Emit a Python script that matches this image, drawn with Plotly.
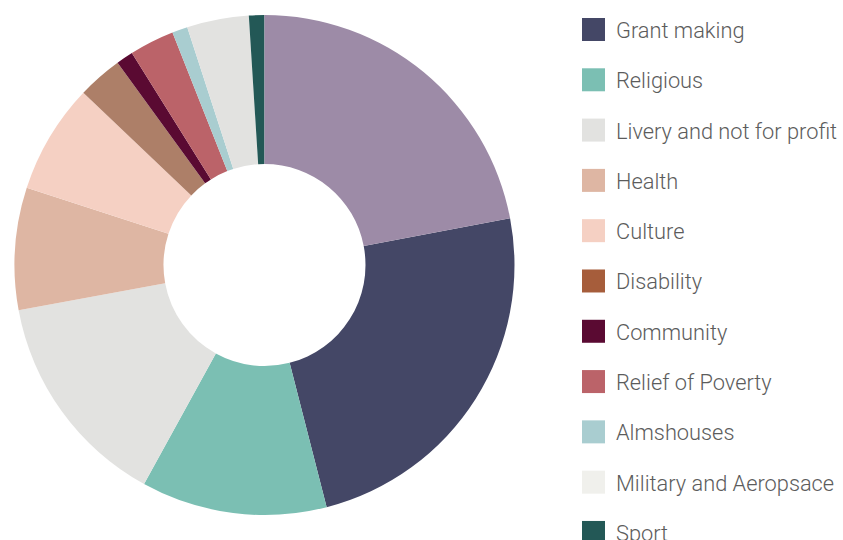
import plotly.graph_objects as go

# ---- data ----
categories = ["Grant making", "Religious", "Livery and not for profit", "Health",
              "Culture", "Disability", "Community", "Relief of Poverty",
              "Almshouses", "Military and Aeropsace", "Sport", "Education"]
shares = [24.0, 12.0, 14.1, 7.9, 7.1, 2.9, 1.1, 2.9, 1.0, 4.0, 1.0, 22.0]

legend_colors = ["#444766", "#7bbfb3", "#e2e2e0", "#deb6a3", "#f5d0c3", "#a65d3b",
                 "#5a0a32", "#bb6369", "#a9cdd0", "#f0f0ec", "#235856", "#9d8ba7"]
slice_colors = ["#444766", "#7bbfb3", "#e2e2e0", "#deb6a3", "#f5d0c3", "#ad7f68",
                "#5a0a32", "#bb6369", "#a9cdd0", "#e2e2e0", "#235856", "#9d8ba7"]

W, H = 843, 540
FONT = "Roboto"
TEXT_COLOR = "#5c5c5c"

total = sum(shares)
start_rotation = shares[-1] / total * 360.0

fig = go.Figure()

fig.add_trace(go.Pie(
    labels=categories,
    values=shares,
    sort=False,
    direction="clockwise",
    rotation=start_rotation,
    hole=0.404,
    marker=dict(colors=slice_colors, line=dict(width=0)),
    textinfo="none",
    showlegend=False,
    domain=dict(x=[14.5 / W, 514.5 / W], y=[1 - 515 / H, 1 - 15 / H]),
))

# custom legend drawn through a categorical axis
fig.add_trace(go.Scatter(
    x=[0] * len(categories),
    y=categories,
    mode="markers",
    marker=dict(symbol="square", size=23, color=legend_colors, line=dict(width=0)),
    cliponaxis=False,
    showlegend=False,
    hoverinfo="skip",
    xaxis="x", yaxis="y",
))

for cat in categories:
    fig.add_annotation(
        x=0, y=cat, xref="x", yref="y",
        text=cat, showarrow=False,
        xanchor="left", yanchor="middle",
        xshift=20.5, yshift=-1,
        font=dict(family=FONT, size=21.8, color=TEXT_COLOR, weight=300),
    )

fig.update_layout(
    width=W, height=H,
    margin=dict(l=0, r=0, t=0, b=0),
    paper_bgcolor="white",
    plot_bgcolor="rgba(0,0,0,0)",
    showlegend=False,
    xaxis=dict(domain=[593.5 / W, 1], range=[0, 1], visible=False, fixedrange=True),
    yaxis=dict(domain=[0, 1], type="category", range=[10.15, -0.5865],
               visible=False, fixedrange=True),
    font=dict(family=FONT, color=TEXT_COLOR),
)

fig.write_html("out.html")
